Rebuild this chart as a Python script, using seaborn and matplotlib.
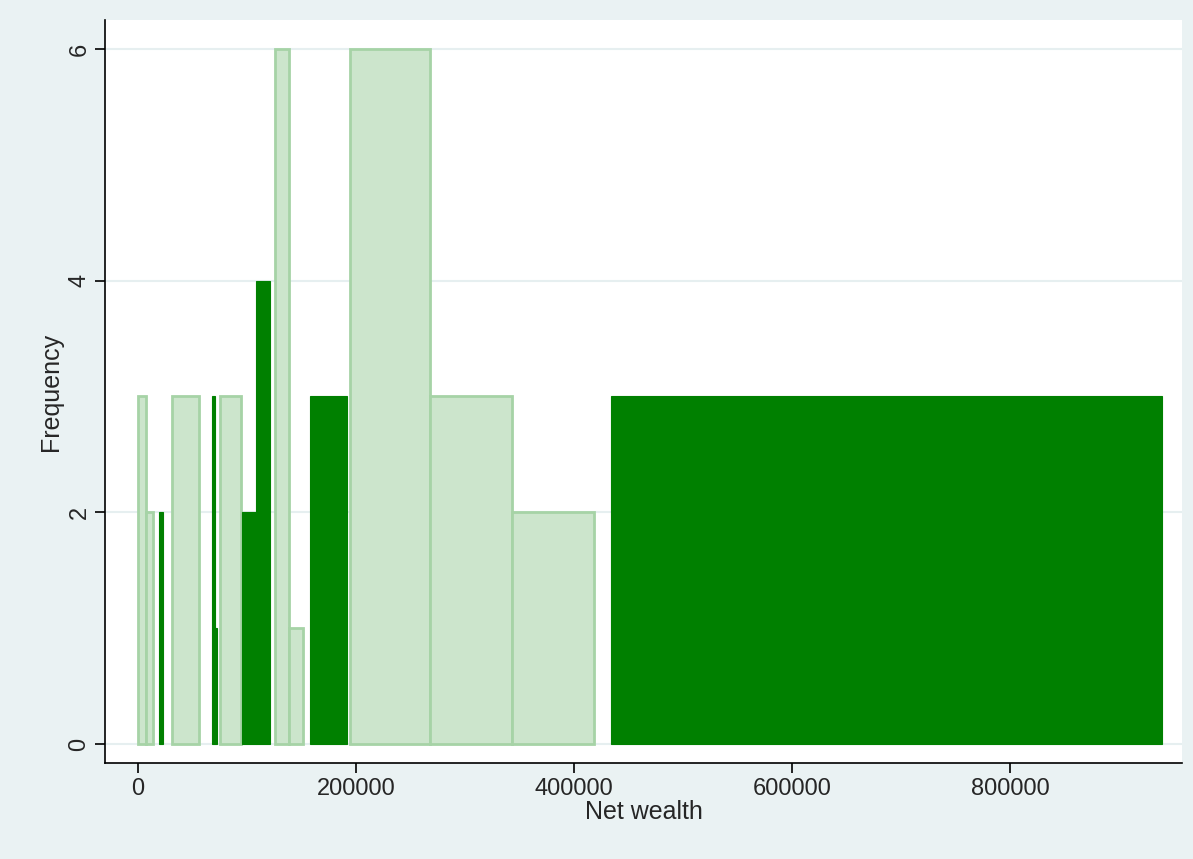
import matplotlib
matplotlib.use("Agg")
import matplotlib.pyplot as plt
import seaborn as sns

sns.set_theme(style="white")
plt.rcParams['font.family'] = ['Liberation Sans', 'DejaVu Sans']

# light (transparent) series: left edge, right edge, frequency
light_left = [300, 7000, 30800, 75200, 125700, 138500, 194500, 267900, 343100]
light_right = [7000, 14000, 56100, 94100, 138500, 151700, 267900, 343100, 418300]
light_freq = [3, 2, 3, 3, 6, 1, 6, 3, 2]
# dark series
dark_left = [19500, 67800, 70500, 95600, 108200, 158000, 433900, 686200]
dark_right = [22500, 70500, 72700, 108200, 121100, 191400, 686200, 939400]
dark_freq = [2, 3, 1, 2, 4, 3, 3, 3]

fig = plt.figure(figsize=(11.93, 8.59), dpi=100)
fig.patch.set_facecolor('#eaf2f3')
ax = fig.add_axes([105/1193, 1-763/859, (1182-105)/1193, (763-20)/859])
ax.set_facecolor('white')

ax.bar(light_left, light_freq, width=[r - l for l, r in zip(light_left, light_right)],
       align='edge', color='#cce5cc', edgecolor='#a6d3a6', linewidth=2, zorder=2)
ax.bar(dark_left, dark_freq, width=[r - l for l, r in zip(dark_left, dark_right)],
       align='edge', color='#008000', edgecolor='#008000', linewidth=0.8, zorder=3)

ax.set_xlim(-30300, 957800)
ax.set_ylim(-0.164, 6.25)
ax.set_yticks([0, 2, 4, 6])
ax.set_xticks([0, 200000, 400000, 600000, 800000])
ax.set_xticklabels(['0', '200000', '400000', '600000', '800000'], fontsize=17)
ax.set_yticklabels(['0', '2', '4', '6'], fontsize=17, rotation=90, va='center')
ax.grid(axis='y', color='#e6eff0', linewidth=1.5, zorder=0)
for s in ['top', 'right']:
    ax.spines[s].set_visible(False)
for s in ['left', 'bottom']:
    ax.spines[s].set_color('black')
    ax.spines[s].set_linewidth(1.2)
ax.tick_params(axis='both', which='both', length=7, width=1.2, color='black', left=True, bottom=True)
ax.set_xlabel('Net wealth', fontsize=18, labelpad=0)
ax.set_ylabel('Frequency', fontsize=18)

fig.savefig('out.png', dpi=100, facecolor=fig.get_facecolor())
